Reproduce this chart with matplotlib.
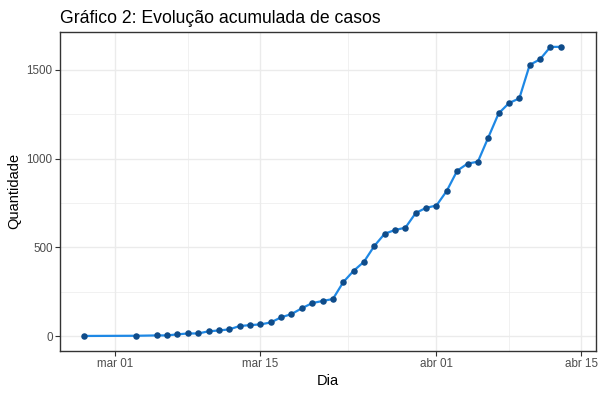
import matplotlib
matplotlib.use('Agg')
import matplotlib.pyplot as plt
import matplotlib.dates as mdates
from matplotlib.ticker import FixedLocator
import pandas as pd

# --- dados ---
DATAS = ['2020-02-27', '2020-03-03'] + \
    [d.strftime('%Y-%m-%d') for d in pd.date_range('2020-03-05', '2020-04-13')]
CASOS = [1, 2, 4, 4, 10, 15, 15, 27, 32, 38, 57, 62, 66, 77, 106, 124, 157, 186,
         198, 209, 304, 368, 419, 508, 577, 598, 611, 694, 723, 736, 819, 932,
         972, 983, 1119, 1255, 1313, 1340, 1528, 1560, 1630, 1630]

X_TICKS = ['2020-03-01', '2020-03-15', '2020-04-01', '2020-04-15']
X_TICK_LABELS = ['mar 01', 'mar 15', 'abr 01', 'abr 15']
Y_TICKS = [0, 500, 1000, 1500]


def plot_casos(datas, casos):
    plt.rcParams['font.family'] = ['Liberation Sans', 'DejaVu Sans']

    fig = plt.figure(figsize=(6.03, 3.94), dpi=100)
    ax = fig.add_axes([0.1, 0.1104, 0.8876, 0.8076])

    x = mdates.date2num(pd.to_datetime(datas))
    ax.plot(x, casos, color='#1E88E5', linewidth=1.6, zorder=3)
    ax.scatter(x, casos, s=22, color='#0F4C8A', zorder=4, linewidths=0)

    # limites medidos no gráfico original
    ax.set_xlim(mdates.date2num(pd.Timestamp('2020-02-24 16:30')),
                mdates.date2num(pd.Timestamp('2020-04-16 08:30')))
    ax.set_ylim(-81, 1712)

    xt = mdates.date2num(pd.to_datetime(X_TICKS))
    ax.set_xticks(xt)
    ax.set_xticklabels(X_TICK_LABELS)
    ax.set_yticks(Y_TICKS)
    # grade menor nos pontos médios
    x_minor = [(xt[i] + xt[i + 1]) / 2 for i in range(len(xt) - 1)]
    ax.xaxis.set_minor_locator(FixedLocator(x_minor))
    ax.yaxis.set_minor_locator(FixedLocator([250, 750, 1250]))

    ax.grid(True, which='major', color='#EBEBEB', linewidth=1.0, zorder=0)
    ax.grid(True, which='minor', color='#EBEBEB', linewidth=0.5, zorder=0)
    ax.set_axisbelow(True)

    for s in ax.spines.values():
        s.set_color('#333333')
        s.set_linewidth(1.0)

    ax.tick_params(which='major', length=3.5, width=0.8, color='#333333',
                   labelsize=8.4, labelcolor='#4D4D4D', pad=2)
    ax.tick_params(which='minor', length=0)

    ax.set_xlabel('Dia', fontsize=10.5, labelpad=3)
    ax.set_ylabel('Quantidade', fontsize=10.5, labelpad=4)
    ax.set_title('Gráfico 2: Evolução acumulada de casos', loc='left',
                 fontsize=12.7, pad=7)
    return fig


def main():
    fig = plot_casos(DATAS, CASOS)
    fig.savefig('out.png', dpi=100)


if __name__ == '__main__':
    main()
